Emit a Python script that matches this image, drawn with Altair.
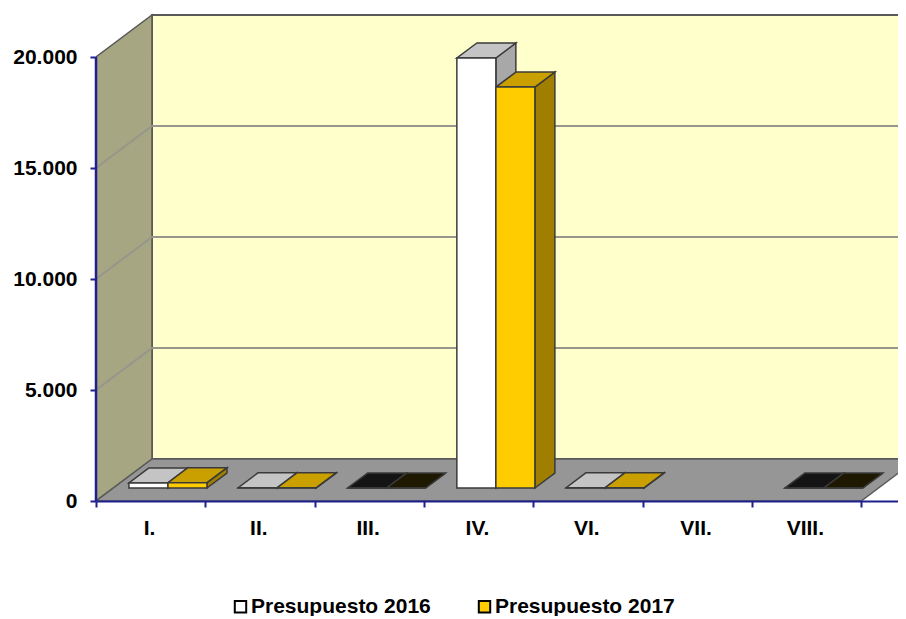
import json
import altair as alt
import pandas as pd

categories = ["I.", "II.", "III.", "IV.", "VI.", "VII.", "VIII."]
values_2016 = [230, 15, 0, 19370, 15, None, 0]
values_2017 = [240, 15, 0, 18060, 15, None, 0]
y_ticks = [0, 5000, 10000, 15000, 20000]
series_names = ["Presupuesto 2016", "Presupuesto 2017"]

# projection of the depth axis, in data units
WALL_X = 0.512
WALL_Y = 1892
D0, D1 = 0.309, 0.666
BAR_W = 0.357
GAP = 0.143
X_MAX = 7.337
Y_MAX = 21982

X = alt.Scale(domain=[0, X_MAX], nice=False, zero=False)
Y = alt.Scale(domain=[0, Y_MAX], nice=False, zero=False)
NAVY = "#1f1f8f"
EDGE = "#3a3a3a"
FONT = "Liberation Sans"

labels_js = json.dumps(categories + [""])
x_axis = alt.Axis(
    values=list(range(8)), title=None, grid=False, zindex=2,
    domainColor=NAVY, domainWidth=2, tickColor=NAVY, tickWidth=2, tickSize=6,
    labelExpr=f"{labels_js}[datum.value]", labelOffset=53, labelPadding=10, labelFlush=False,
    labelFont=FONT, labelFontWeight="bold", labelFontSize=21, labelColor="#000000",
)
y_axis = alt.Axis(
    values=y_ticks, title=None, grid=False, domain=False, zindex=2,
    tickColor=NAVY, tickWidth=2, tickSize=6,
    labelExpr="replace(format(datum.value, ',.0f'), ',', '.')", labelPadding=13, labelFlush=False,
    labelFont=FONT, labelFontWeight="bold", labelFontSize=21, labelColor="#000000",
)

front, sides, tops = [], [], []
for s, (name, vals, face, side, top, dark) in enumerate([
    (series_names[0], values_2016, "#ffffff", "#a8a8a8", "#c4c4c4", "#141414"),
    (series_names[1], values_2017, "#ffcc00", "#a07f00", "#c9a000", "#1e1800"),
]):
    for i, v in enumerate(vals):
        if v is None:
            continue
        x0 = i + GAP + s * BAR_W
        x1 = x0 + BAR_W
        key = f"{s}-{i}"
        px0, px1 = WALL_X * D0, WALL_X * D1
        py0, py1 = WALL_Y * D0, WALL_Y * D1
        front.append(dict(series=name, x=x0 + px0, x2=x1 + px0, y=py0, y2=v + py0))
        sides.append(dict(s=s, key=key, fill=side, x=x1 + px0, y=py0, y2=v + py0))
        sides.append(dict(s=s, key=key, fill=side, x=x1 + px1, y=py1, y2=v + py1))
        tf = top if v > 0 else dark
        tops.append(dict(s=s, key=key, fill=tf, y=v + py0, x=x0 + px0, x2=x1 + px0))
        tops.append(dict(s=s, key=key, fill=tf, y=v + py1, x=x0 + px1, x2=x1 + px1))

front_df = pd.DataFrame(front)
sides_df = pd.DataFrame(sides)
tops_df = pd.DataFrame(tops)

grid = []
for v in y_ticks[1:-1]:
    grid.append(dict(k=f"w{v}", x=0, y=v))
    grid.append(dict(k=f"w{v}", x=WALL_X, y=v + WALL_Y))
    grid.append(dict(k=f"w{v}", x=X_MAX + 1, y=v + WALL_Y))
grid_df = pd.DataFrame(grid)

xq = lambda f="x": alt.X(f"{f}:Q", scale=X, axis=x_axis)
yq = lambda f="y": alt.Y(f"{f}:Q", scale=Y, axis=y_axis)

back_wall = alt.Chart(pd.DataFrame({"x": [WALL_X], "x2": [X_MAX + 1], "y": [WALL_Y], "y2": [20000 + WALL_Y]})).mark_rect(
    fill="#ffffcc", stroke="#5a5a5a", strokeWidth=2, clip=True
).encode(x=xq(), x2="x2:Q", y=yq(), y2="y2:Q")

left_wall = alt.Chart(pd.DataFrame({"x": [0, WALL_X], "y": [0, WALL_Y], "y2": [20000, 20000 + WALL_Y]})).mark_area(
    fill="#a6a682", stroke="#5a5a5a", strokeWidth=1.5, clip=True
).encode(x=xq(), y=yq(), y2="y2:Q")

floor = alt.Chart(pd.DataFrame({"y": [0, WALL_Y], "x": [0, WALL_X], "x2": [7, 7 + WALL_X]})).mark_area(
    orient="horizontal", fill="#969696", stroke="#5a5a5a", strokeWidth=1.5, clip=True
).encode(y=yq(), x=xq(), x2="x2:Q")

grid_lines = alt.Chart(grid_df).mark_line(color="#96968c", strokeWidth=2, clip=True).encode(
    x=xq(), y=yq(), detail="k:N", order="x:Q"
)

y_line = alt.Chart(pd.DataFrame({"x": [0], "y": [0], "y2": [20000]})).mark_rule(color=NAVY, strokeWidth=2.5).encode(
    x=xq(), y=yq(), y2="y2:Q"
)


def side_layer(s):
    return alt.Chart(sides_df[sides_df.s == s]).mark_area(stroke=EDGE, strokeWidth=1.5).encode(
        x=xq(), y=yq(), y2="y2:Q", detail="key:N", fill=alt.Fill("fill:N", scale=None)
    )


def top_layer(s):
    return alt.Chart(tops_df[tops_df.s == s]).mark_area(orient="horizontal", stroke=EDGE, strokeWidth=1.5).encode(
        y=yq(), x=xq(), x2="x2:Q", detail="key:N", fill=alt.Fill("fill:N", scale=None)
    )


fronts = alt.Chart(front_df).mark_rect(stroke=EDGE, strokeWidth=1.5).encode(
    x=xq(), x2="x2:Q", y=yq(), y2="y2:Q",
    color=alt.Color(
        "series:N",
        scale=alt.Scale(domain=series_names, range=["#ffffff", "#ffcc00"]),
        legend=alt.Legend(
            orient="none", legendX=134, legendY=583, direction="horizontal", columns=2,
            title=None, symbolType="square", symbolSize=130, symbolStrokeColor="#000000",
            symbolStrokeWidth=2, symbolOpacity=1, labelFont=FONT, labelFontWeight="bold",
            labelFontSize=21, labelColor="#000000", labelLimit=400, columnPadding=43,
            labelOffset=0, symbolOffset=0,
        ),
    ),
)

chart = alt.layer(
    back_wall, left_wall, floor, grid_lines, y_line,
    side_layer(0), top_layer(0), side_layer(1), top_layer(1), fronts,
).properties(
    width=802, height=488,
    padding={"left": 88, "top": 5, "right": 0, "bottom": 115},
    autosize=alt.AutoSizeParams(type="none"),
    background="#ffffff",
).configure_view(stroke=None)

chart.save("out.html", embed_options={"renderer": "svg", "actions": False})
